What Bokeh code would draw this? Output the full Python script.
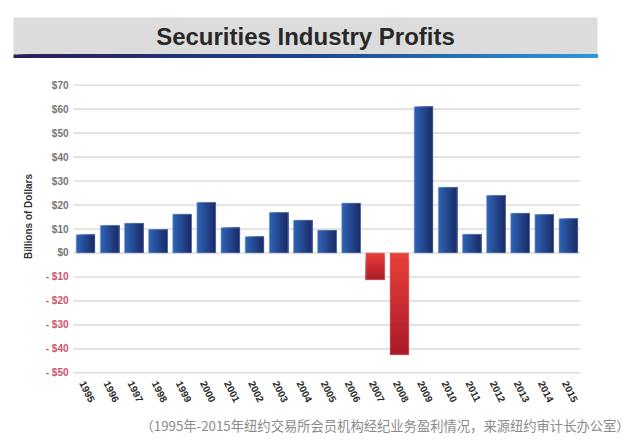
import numpy as np
from bokeh.plotting import figure
from bokeh.models import Range1d, ColumnDataSource
from bokeh.core.properties import value
from bokeh.embed import file_html
from bokeh.resources import INLINE

# ---- data ----
years = ["1995", "1996", "1997", "1998", "1999", "2000", "2001", "2002", "2003", "2004",
         "2005", "2006", "2007", "2008", "2009", "2010", "2011", "2012", "2013", "2014", "2015"]
profits = [7.6, 11.5, 12.4, 9.8, 16.2, 21.1, 10.5, 6.8, 16.9, 13.7,
           9.5, 20.8, -11.2, -42.5, 61.0, 27.4, 7.8, 24.0, 16.6, 16.0, 14.3]
y_ticks = [70, 60, 50, 40, 30, 20, 10, 0, -10, -20, -30, -40, -50]
y_tick_labels = ["$70", "$60", "$50", "$40", "$30", "$20", "$10", "$0",
                 "- $10", "- $20", "- $30", "- $40", "- $50"]
title_text = "Securities Industry Profits"
y_title = "Billions of Dollars"
caption = "（1995年-2015年纽约交易所会员机构经纪业务盈利情况，来源纽约审计长办公室）"

FONT = "Liberation Sans"
W, H = 640, 447

# ---- layout: plot area in canvas pixels (frame covers the whole canvas) ----
n = len(years)
y_lo, y_hi = min(y_ticks), max(y_ticks)
area_left, area_right, area_top, area_bottom = 73.0, 580.0, 84.7, 372.3
c = (area_right - area_left) / n                  # px per category
u = (area_bottom - area_top) / (y_hi - y_lo)      # px per dollar
XS = -0.5 - area_left / c
XE = XS + W / c
YE = y_hi + area_top / u
YS = YE - H / u

def X(px):
    return XS + px / c

def Y(py):
    return YE - py / u

def lerp_hex(c1, c2, t):
    a = [int(c1[i:i + 2], 16) for i in (1, 3, 5)]
    b = [int(c2[i:i + 2], 16) for i in (1, 3, 5)]
    return "#%02x%02x%02x" % tuple(int(round(a[j] + (b[j] - a[j]) * t)) for j in range(3))

p = figure(width=W, height=H, output_backend="svg", toolbar_location=None,
           x_range=Range1d(XS, XE), y_range=Range1d(YS, YE),
           x_axis_type=None, y_axis_type=None, min_border=0)
p.outline_line_color = None
p.grid.visible = False
p.background_fill_color = "white"
p.border_fill_color = "white"

# ---- title banner ----
p.quad(left=X(13), right=X(597), top=Y(17), bottom=Y(54), fill_color="#dcdcdc", line_color=None)
NG = 120
gl = [X(13 + (597 - 13) * k / NG) for k in range(NG)]
gc = []
for k in range(NG):
    t = (k + 0.5) / NG
    gc.append(lerp_hex("#2b1d55", "#1f4390", t / 0.5) if t < 0.5
              else lerp_hex("#1f4390", "#2e98d8", (t - 0.5) / 0.5))
p.quad(left=gl, right=[X(597)] * NG, top=Y(54), bottom=Y(57.5), fill_color=gc, line_color=None)
p.text(x=[X(305)], y=[Y(36)], text=[title_text], text_align="center", text_baseline="middle",
       text_font=value(FONT), text_font_size="24px", text_font_style="bold", text_color="#282828")

# ---- grid lines from the tick values ----
p.segment(x0=[-0.5] * len(y_ticks), x1=[n - 0.5] * len(y_ticks), y0=y_ticks, y1=y_ticks,
          line_color="#dedede", line_width=1.6)

# ---- gradient bars built from the data ----
N = 16
bar_w = 0.78
ql, qr, qt, qb, qc = [], [], [], [], []
for i, v in enumerate(profits):
    left, right = i - bar_w / 2, i + bar_w / 2
    if v >= 0:
        for k in range(N):
            ql.append(left + k * bar_w / N)
            qr.append(right)
            qt.append(v)
            qb.append(0)
            qc.append(lerp_hex("#2e66b6", "#1b2966", (k + 0.5) / N))
    else:
        for k in range(N):
            ql.append(left)
            qr.append(right)
            qt.append(v * k / N)
            qb.append(v)
            qc.append(lerp_hex("#ea4038", "#aa1a2a", (k + 0.5) / N))
p.quad(left=ql, right=qr, top=qt, bottom=qb, fill_color=qc, line_color=None)
# light edge round each bar
p.vbar(x=list(range(n)), width=bar_w, top=profits, bottom=0, fill_color=None,
       line_color=["#8ea6d0" if v >= 0 else "#e88a8a" for v in profits], line_width=0.8,
       line_alpha=0.7)

# ---- y tick labels (negative values in red) ----
ylab = ColumnDataSource(dict(
    x=[-0.5] * len(y_ticks), y=y_ticks, text=y_tick_labels,
    color=["#747474" if t >= 0 else "#cc5570" for t in y_ticks]))
p.text(x="x", y="y", text="text", source=ylab, x_offset=-5, text_align="right",
       text_baseline="middle", text_font=value(FONT), text_font_size="10px",
       text_font_style="bold", text_color="color")
p.text(x=[X(28)], y=[Y(216)], text=[y_title], angle=np.pi / 2, text_align="center",
       text_baseline="middle", text_font=value(FONT), text_font_size="10px",
       text_font_style="bold", text_color="#333333")

# ---- x tick labels (rotated years) ----
p.text(x=list(range(n)), y=[Y(381)] * n, text=years, angle=-1.1, x_offset=-3,
       text_align="left", text_baseline="middle", text_font=value(FONT),
       text_font_size="10px", text_font_style="bold", text_color="#2a2a2a")

# ---- caption ----
p.text(x=[X(140)], y=[Y(425)], text=[caption], text_align="left", text_baseline="middle",
       text_font=value("Noto Sans CJK SC"), text_font_size="13.3px", text_color="#8a8a8a")

open("out.html", "w").write(file_html(p, INLINE))
